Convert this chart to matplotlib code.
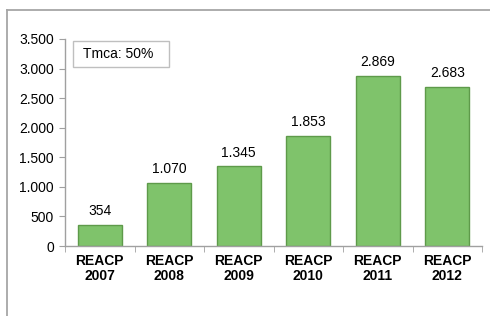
import matplotlib
matplotlib.use("Agg")
import matplotlib.pyplot as plt
from matplotlib.patches import Rectangle
from matplotlib.lines import Line2D

plt.rcParams['font.family'] = ['Liberation Sans', 'DejaVu Sans']

categories = ["REACP\n2007", "REACP\n2008", "REACP\n2009", "REACP\n2010", "REACP\n2011", "REACP\n2012"]
values = [354, 1070, 1345, 1853, 2869, 2683]
value_labels = ["354", "1.070", "1.345", "1.853", "2.869", "2.683"]
yticks = [0, 500, 1000, 1500, 2000, 2500, 3000, 3500]
ytick_labels = ["0", "500", "1.000", "1.500", "2.000", "2.500", "3.000", "3.500"]
note = "Tmca: 50%"

W, H = 490, 316
fig = plt.figure(figsize=(W / 100, H / 100), dpi=100)

def fx(px):
    return px / W

def fy(py):
    return 1 - py / H

# outer frame (top and left visible)
frame_color = "#A6A6A6"
fig.lines.append(Line2D([fx(7), fx(7)], [fy(10), fy(320)], transform=fig.transFigure, color=frame_color, lw=1.3))
fig.lines.append(Line2D([fx(7), fx(495)], [fy(10), fy(10)], transform=fig.transFigure, color=frame_color, lw=1.3))

ax = fig.add_axes([fx(65), fy(246), fx(482) - fx(65), fy(39) - fy(246)])
x = list(range(len(values)))
bars = ax.bar(x, values, width=0.63, color="#7FC36B", edgecolor="#5E9A4A", linewidth=1.0, zorder=2)
for xi, v, lab in zip(x, values, value_labels):
    ax.annotate(lab, (xi, v), xytext=(0, 5), textcoords="offset points",
                ha="center", va="bottom", fontsize=10, color="#000000")

ax.set_xlim(-0.5, len(values) - 0.5)
ax.set_ylim(0, 3500)
ax.set_yticks(yticks)
ax.set_yticklabels(ytick_labels, fontsize=10)
ax.set_xticks(x)
ax.set_xticklabels(categories, fontsize=10, fontweight="bold", linespacing=1.1)
ax.set_xticks([i - 0.5 for i in range(len(values) + 1)], minor=True)
ax.tick_params(axis="x", which="major", length=0, pad=6)
ax.tick_params(axis="x", which="minor", length=4, color="#A0A0A0", direction="out")
ax.tick_params(axis="y", length=4, color="#A0A0A0", pad=4)

for s in ["top", "right"]:
    ax.spines[s].set_visible(False)
for s in ["left", "bottom"]:
    ax.spines[s].set_color("#A0A0A0")
    ax.spines[s].set_linewidth(1.0)

# annotation box
box = Rectangle((fx(73), fy(67)), fx(169) - fx(73), fy(41) - fy(67), transform=fig.transFigure,
                facecolor="white", edgecolor="#BFBFBF", lw=1.0)
fig.patches.append(box)
fig.text(fx(83), fy(54), note, fontsize=10, ha="left", va="center")

fig.savefig("out.png", dpi=100)
